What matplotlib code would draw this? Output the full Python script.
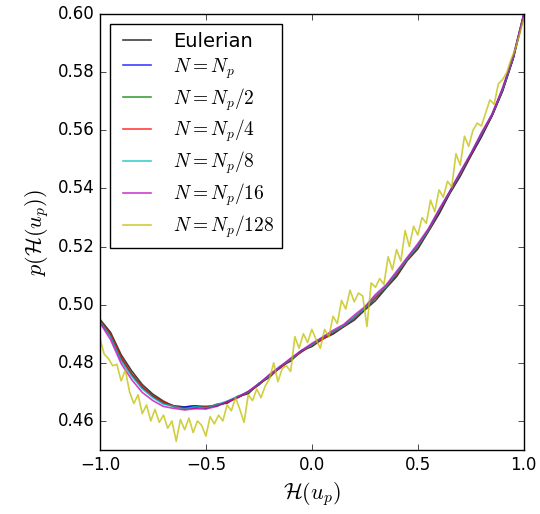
import numpy as np
import matplotlib
matplotlib.use("Agg")
import matplotlib.pyplot as plt
from matplotlib.lines import Line2D
from matplotlib.legend_handler import HandlerLine2D

plt.style.use("classic")
plt.rcParams["mathtext.fontset"] = "cm"
plt.rcParams["figure.facecolor"] = "white"
plt.rcParams["savefig.facecolor"] = "white"

x_main = np.linspace(-1.0, 1.0, 41)

eulerian = [0.4950, 0.4905, 0.4828, 0.4772, 0.4725, 0.4692, 0.4668, 0.4650, 0.4648, 0.4652,
            0.4643, 0.4657, 0.4661, 0.4684, 0.4694, 0.4729, 0.4750, 0.4787, 0.4806, 0.4842,
            0.4856, 0.4882, 0.4899, 0.4924, 0.4947, 0.4982, 0.5014, 0.5057, 0.5097, 0.5152,
            0.5192, 0.5252, 0.5312, 0.5382, 0.5442, 0.5512, 0.5577, 0.5650, 0.5735, 0.5848, 0.5998]
n_p = [0.4943, 0.4893, 0.4813, 0.4758, 0.4714, 0.4684, 0.4660, 0.4652, 0.4648, 0.4652,
       0.4650, 0.4652, 0.4667, 0.4680, 0.4700, 0.4725, 0.4757, 0.4782, 0.4812, 0.4837,
       0.4862, 0.4883, 0.4905, 0.4926, 0.4955, 0.4987, 0.5025, 0.5062, 0.5106, 0.5156,
       0.5202, 0.5256, 0.5318, 0.5384, 0.5450, 0.5514, 0.5583, 0.5650, 0.5738, 0.5847, 0.5995]
n_p2 = [0.4946, 0.4896, 0.4817, 0.4762, 0.4716, 0.4687, 0.4663, 0.4649, 0.4646, 0.4644,
        0.4649, 0.4651, 0.4665, 0.4681, 0.4699, 0.4724, 0.4756, 0.4784, 0.4810, 0.4839,
        0.4860, 0.4883, 0.4906, 0.4925, 0.4956, 0.4985, 0.5026, 0.5060, 0.5104, 0.5156,
        0.5201, 0.5255, 0.5321, 0.5386, 0.5451, 0.5516, 0.5586, 0.5652, 0.5741, 0.5851, 0.5999]
n_p4 = [0.4945, 0.4899, 0.4820, 0.4761, 0.4718, 0.4685, 0.4665, 0.4651, 0.4643, 0.4646,
        0.4647, 0.4655, 0.4664, 0.4681, 0.4698, 0.4726, 0.4754, 0.4783, 0.4811, 0.4838,
        0.4861, 0.4881, 0.4905, 0.4926, 0.4955, 0.4986, 0.5025, 0.5061, 0.5106, 0.5155,
        0.5201, 0.5256, 0.5320, 0.5386, 0.5450, 0.5516, 0.5585, 0.5651, 0.5740, 0.5850, 0.6000]
n_p8 = [0.4942, 0.4890, 0.4808, 0.4754, 0.4710, 0.4680, 0.4658, 0.4650, 0.4640, 0.4650,
        0.4644, 0.4656, 0.4668, 0.4685, 0.4700, 0.4729, 0.4756, 0.4788, 0.4812, 0.4842,
        0.4862, 0.4888, 0.4907, 0.4928, 0.4957, 0.4988, 0.5030, 0.5063, 0.5110, 0.5158,
        0.5203, 0.5258, 0.5325, 0.5388, 0.5453, 0.5521, 0.5588, 0.5655, 0.5742, 0.5852, 0.6000]
n_p16 = [0.4938, 0.4880, 0.4798, 0.4742, 0.4698, 0.4670, 0.4650, 0.4643, 0.4638, 0.4642,
         0.4641, 0.4650, 0.4666, 0.4682, 0.4702, 0.4728, 0.4760, 0.4787, 0.4816, 0.4842,
         0.4867, 0.4888, 0.4912, 0.4932, 0.4964, 0.4993, 0.5035, 0.5068, 0.5115, 0.5163,
         0.5210, 0.5262, 0.5328, 0.5390, 0.5457, 0.5520, 0.5592, 0.5656, 0.5747, 0.5855, 0.6000]

x_128 = np.linspace(-1.0, 1.0, 101)
n_p128 = [0.4885, 0.4830, 0.4815, 0.4790, 0.4795, 0.4738, 0.4775, 0.4700, 0.4660, 0.4690,
          0.4625, 0.4655, 0.4600, 0.4640, 0.4595, 0.4620, 0.4575, 0.4600, 0.4530, 0.4605,
          0.4570, 0.4610, 0.4560, 0.4600, 0.4585, 0.4548, 0.4615, 0.4590, 0.4620, 0.4600,
          0.4655, 0.4635, 0.4680, 0.4640, 0.4595, 0.4690, 0.4670, 0.4710, 0.4680, 0.4720,
          0.4745, 0.4800, 0.4735, 0.4780, 0.4790, 0.4770, 0.4890, 0.4850, 0.4900, 0.4870,
          0.4915, 0.4880, 0.4850, 0.4915, 0.4890, 0.4960, 0.4935, 0.5015, 0.4985, 0.5050,
          0.5010, 0.5040, 0.5030, 0.4925, 0.5075, 0.5060, 0.5090, 0.5070, 0.5165, 0.5120,
          0.5190, 0.5150, 0.5255, 0.5200, 0.5270, 0.5240, 0.5300, 0.5280, 0.5360, 0.5320,
          0.5395, 0.5370, 0.5425, 0.5405, 0.5520, 0.5480, 0.5580, 0.5545, 0.5600, 0.5625,
          0.5615, 0.5660, 0.5705, 0.5690, 0.5760, 0.5775, 0.5800, 0.5845, 0.5880, 0.5930, 0.5985]

labels = ["Eulerian", r"$N=N_p$", r"$N=N_p/2$", r"$N=N_p/4$", r"$N=N_p/8$",
          r"$N=N_p/16$", r"$N=N_p/128$"]
colors = ["k", "b", "g", "r", "c", "m", "y"]

fig = plt.figure(figsize=(5.4, 5.14), dpi=100)
ax = fig.add_axes([0.185, 0.1245, 0.785, 0.848])

series = [(x_main, eulerian), (x_main, n_p), (x_main, n_p2), (x_main, n_p4),
          (x_main, n_p8), (x_main, n_p16), (x_128, n_p128)]
for (xs, ys), c, lab in zip(series, colors, labels):
    ax.plot(xs, ys, color=c, alpha=0.75, lw=1.2, label=lab)

ax.set_xlim(-1.0, 1.0)
ax.set_ylim(0.45, 0.60)
ax.set_xticks([-1.0, -0.5, 0.0, 0.5, 1.0])
ax.set_yticks([0.46, 0.48, 0.50, 0.52, 0.54, 0.56, 0.58, 0.60])
ax.tick_params(labelsize=12)
ax.set_xlabel(r"$\mathcal{H}(u_p)$", fontsize=16)
ax.set_ylabel(r"$p(\mathcal{H}(u_p))$", fontsize=16)

leg = ax.legend(loc="upper left", fontsize=14, handlelength=1.75, handletextpad=1.13,
                labelspacing=0.28, numpoints=1,
                handler_map={Line2D: HandlerLine2D(xpad=0.31)})

fig.savefig("out.png", dpi=100)
